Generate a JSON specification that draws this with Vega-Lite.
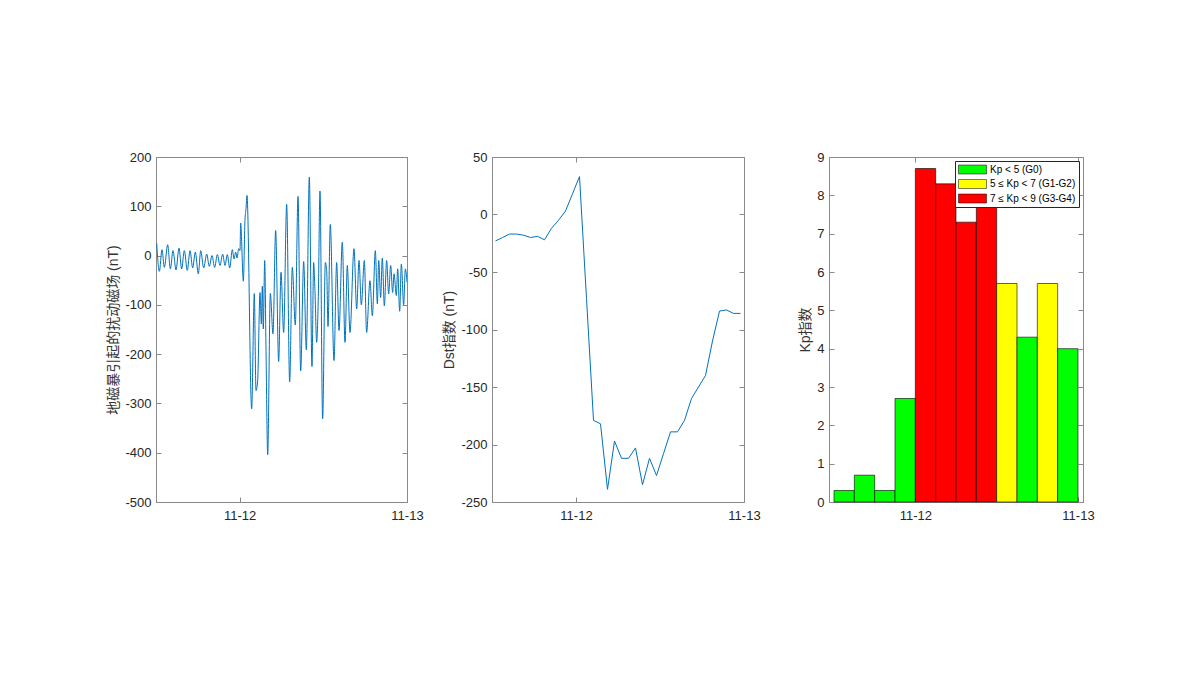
{
  "$schema": "https://vega.github.io/schema/vega-lite/v6.json",
  "background": "white",
  "padding": {"left": 106, "top": 150, "right": 5, "bottom": 5},
  "bounds": "flush",
  "spacing": 85,
  "resolve": {"legend": {"color": "independent"}},
  "datasets": {
    "geo": [
      {"hour": 12.10, "dB": 25}, {"hour": 12.48, "dB": -32}, {"hour": 12.86, "dB": 12}, {"hour": 13.20, "dB": -24},
      {"hour": 13.67, "dB": 22}, {"hour": 14.06, "dB": -27}, {"hour": 14.44, "dB": 10}, {"hour": 14.87, "dB": -29},
      {"hour": 15.30, "dB": 15}, {"hour": 15.68, "dB": -27}, {"hour": 16.06, "dB": 10}, {"hour": 16.49, "dB": -30},
      {"hour": 16.88, "dB": 10}, {"hour": 17.26, "dB": -25}, {"hour": 17.64, "dB": 7}, {"hour": 18.07, "dB": -37},
      {"hour": 18.41, "dB": 10}, {"hour": 18.84, "dB": -25}, {"hour": 19.27, "dB": 3}, {"hour": 19.65, "dB": -22},
      {"hour": 20.03, "dB": 0}, {"hour": 20.41, "dB": -24}, {"hour": 20.80, "dB": 2}, {"hour": 21.18, "dB": -20},
      {"hour": 21.56, "dB": 3}, {"hour": 21.90, "dB": -20}, {"hour": 22.23, "dB": 2}, {"hour": 22.57, "dB": -25},
      {"hour": 22.95, "dB": 12}, {"hour": 23.19, "dB": -7}, {"hour": 23.43, "dB": 7}, {"hour": 23.62, "dB": -5},
      {"hour": 23.86, "dB": 14}, {"hour": 24.05, "dB": 10}, {"hour": 24.14, "dB": 66}, {"hour": 24.53, "dB": -52},
      {"hour": 24.76, "dB": 71}, {"hour": 24.91, "dB": 95}, {"hour": 25.05, "dB": 122}, {"hour": 25.72, "dB": -311},
      {"hour": 26.10, "dB": -77}, {"hour": 26.34, "dB": -274}, {"hour": 26.58, "dB": -254}, {"hour": 26.92, "dB": -75},
      {"hour": 27.11, "dB": -139}, {"hour": 27.25, "dB": -62}, {"hour": 27.39, "dB": -149}, {"hour": 27.59, "dB": -10},
      {"hour": 27.78, "dB": -193}, {"hour": 28.02, "dB": -404}, {"hour": 28.40, "dB": -77}, {"hour": 28.78, "dB": -159},
      {"hour": 29.16, "dB": 51}, {"hour": 29.59, "dB": -215}, {"hour": 29.93, "dB": -34}, {"hour": 30.31, "dB": -156},
      {"hour": 30.74, "dB": 104}, {"hour": 31.17, "dB": -256}, {"hour": 31.55, "dB": -24}, {"hour": 31.98, "dB": -141},
      {"hour": 32.37, "dB": 120}, {"hour": 32.75, "dB": -234}, {"hour": 33.18, "dB": -12}, {"hour": 33.56, "dB": -191},
      {"hour": 33.99, "dB": 159}, {"hour": 34.37, "dB": -225}, {"hour": 34.61, "dB": -14}, {"hour": 34.80, "dB": -71},
      {"hour": 35.04, "dB": -176}, {"hour": 35.28, "dB": -83}, {"hour": 35.52, "dB": 131}, {"hour": 35.90, "dB": -331},
      {"hour": 36.29, "dB": -14}, {"hour": 36.48, "dB": -30}, {"hour": 36.67, "dB": -144}, {"hour": 37.00, "dB": 63},
      {"hour": 37.53, "dB": -213}, {"hour": 37.91, "dB": -14}, {"hour": 38.25, "dB": -152}, {"hour": 38.72, "dB": 27},
      {"hour": 39.11, "dB": -176}, {"hour": 39.44, "dB": -20}, {"hour": 39.82, "dB": -156}, {"hour": 40.40, "dB": 14},
      {"hour": 40.78, "dB": -108}, {"hour": 41.12, "dB": -10}, {"hour": 41.45, "dB": -100}, {"hour": 41.88, "dB": -10},
      {"hour": 42.21, "dB": -156}, {"hour": 42.69, "dB": -51}, {"hour": 43.03, "dB": -122}, {"hour": 43.46, "dB": 10},
      {"hour": 43.75, "dB": -98}, {"hour": 43.94, "dB": -10}, {"hour": 44.22, "dB": -85}, {"hour": 44.46, "dB": -5},
      {"hour": 44.75, "dB": -102}, {"hour": 45.08, "dB": -10}, {"hour": 45.37, "dB": -78}, {"hour": 45.66, "dB": -20},
      {"hour": 45.94, "dB": -75}, {"hour": 46.14, "dB": -37}, {"hour": 46.47, "dB": -81}, {"hour": 46.66, "dB": -27},
      {"hour": 46.95, "dB": -113}, {"hour": 47.19, "dB": -17}, {"hour": 47.52, "dB": -100}, {"hour": 47.76, "dB": -27},
      {"hour": 48.0, "dB": -54}
    ],
    "dst": [
      {"hour": 12.5, "dst": -23}, {"hour": 13.5, "dst": -20}, {"hour": 14.5, "dst": -17}, {"hour": 15.5, "dst": -17},
      {"hour": 16.5, "dst": -18}, {"hour": 17.5, "dst": -20}, {"hour": 18.5, "dst": -19}, {"hour": 19.5, "dst": -22},
      {"hour": 20.5, "dst": -12}, {"hour": 21.5, "dst": -5}, {"hour": 22.5, "dst": 3}, {"hour": 23.5, "dst": 18},
      {"hour": 24.5, "dst": 33}, {"hour": 25.5, "dst": -73}, {"hour": 26.5, "dst": -179}, {"hour": 27.5, "dst": -182},
      {"hour": 28.5, "dst": -239}, {"hour": 29.5, "dst": -197}, {"hour": 30.5, "dst": -212}, {"hour": 31.5, "dst": -212},
      {"hour": 32.5, "dst": -203}, {"hour": 33.5, "dst": -235}, {"hour": 34.5, "dst": -212}, {"hour": 35.5, "dst": -227},
      {"hour": 36.5, "dst": -208}, {"hour": 37.5, "dst": -189}, {"hour": 38.5, "dst": -189}, {"hour": 39.5, "dst": -179},
      {"hour": 40.5, "dst": -160}, {"hour": 41.5, "dst": -150}, {"hour": 42.5, "dst": -140}, {"hour": 43.5, "dst": -110},
      {"hour": 44.5, "dst": -84}, {"hour": 45.5, "dst": -83}, {"hour": 46.5, "dst": -86}, {"hour": 47.5, "dst": -86}
    ],
    "kp": [
      {"start": 12, "end": 15, "kp": 0.3, "level": "Kp < 5 (G0)"},
      {"start": 15, "end": 18, "kp": 0.7, "level": "Kp < 5 (G0)"},
      {"start": 18, "end": 21, "kp": 0.3, "level": "Kp < 5 (G0)"},
      {"start": 21, "end": 24, "kp": 2.7, "level": "Kp < 5 (G0)"},
      {"start": 24, "end": 27, "kp": 8.7, "level": "7 ≤ Kp < 9 (G3-G4)"},
      {"start": 27, "end": 30, "kp": 8.3, "level": "7 ≤ Kp < 9 (G3-G4)"},
      {"start": 30, "end": 33, "kp": 7.3, "level": "7 ≤ Kp < 9 (G3-G4)"},
      {"start": 33, "end": 36, "kp": 7.7, "level": "7 ≤ Kp < 9 (G3-G4)"},
      {"start": 36, "end": 39, "kp": 5.7, "level": "5 ≤ Kp < 7 (G1-G2)"},
      {"start": 39, "end": 42, "kp": 4.3, "level": "Kp < 5 (G0)"},
      {"start": 42, "end": 45, "kp": 5.7, "level": "5 ≤ Kp < 7 (G1-G2)"},
      {"start": 45, "end": 48, "kp": 4.0, "level": "Kp < 5 (G0)"}
    ]
  },
  "config": {
    "font": "Liberation Sans, Noto Sans CJK SC",
    "view": {"stroke": "#8a8a8a", "strokeWidth": 1},
    "axis": {
      "grid": false,
      "domainColor": "#8a8a8a",
      "tickColor": "#8a8a8a",
      "tickSize": -5,
      "labelFontSize": 13,
      "labelColor": "#262626",
      "labelFont": "Liberation Sans",
      "titleFont": "Liberation Sans, Noto Sans CJK SC",
      "titleFontSize": 14,
      "titleFontWeight": "normal",
      "titleColor": "#333333",
      "titlePadding": 4,
      "labelFlush": false,
      "labelOverlap": false
    },
    "axisX": {"labelPadding": 12},
    "axisY": {"labelPadding": 10, "labelExpr": "'' + datum.value"}
  },
  "hconcat": [
    {
      "width": 251,
      "height": 345,
      "data": {"name": "geo"},
      "layer": [
        {
          "mark": {"type": "line", "color": "#0072bd", "strokeWidth": 1, "interpolate": "monotone", "clip": true},
          "encoding": {
            "x": {"field": "hour", "type": "quantitative", "scale": {"domain": [12, 48], "nice": false, "zero": false},
                  "axis": {"values": [24, 48], "labelExpr": "datum.value == 24 ? '11-12' : '11-13'", "title": null}},
            "y": {"field": "dB", "type": "quantitative", "scale": {"domain": [-500, 200], "nice": false},
                  "axis": {"values": [-500, -400, -300, -200, -100, 0, 100, 200], "title": "地磁暴引起的扰动磁场 (nT)"}}
          }
        },
        {
          "mark": {"type": "line", "opacity": 0},
          "encoding": {
            "x": {"field": "hour", "type": "quantitative", "scale": {"domain": [12, 48], "nice": false, "zero": false},
                  "axis": {"orient": "top", "values": [24, 48], "labels": false, "domain": false, "title": null}},
            "y": {"field": "dB", "type": "quantitative", "scale": {"domain": [-500, 200], "nice": false},
                  "axis": {"orient": "right", "values": [-500, -400, -300, -200, -100, 0, 100, 200], "labels": false, "domain": false, "title": null}}
          }
        }
      ],
      "resolve": {"scale": {"x": "independent", "y": "independent"}, "axis": {"x": "independent", "y": "independent"}}
    },
    {
      "width": 252,
      "height": 345,
      "data": {"name": "dst"},
      "layer": [
        {
          "mark": {"type": "line", "color": "#0072bd", "strokeWidth": 1},
          "encoding": {
            "x": {"field": "hour", "type": "quantitative", "scale": {"domain": [12, 48], "nice": false, "zero": false},
                  "axis": {"values": [24, 48], "labelExpr": "datum.value == 24 ? '11-12' : '11-13'", "title": null}},
            "y": {"field": "dst", "type": "quantitative", "scale": {"domain": [-250, 50], "nice": false},
                  "axis": {"values": [-250, -200, -150, -100, -50, 0, 50], "title": "Dst指数 (nT)"}}
          }
        },
        {
          "mark": {"type": "line", "opacity": 0},
          "encoding": {
            "x": {"field": "hour", "type": "quantitative", "scale": {"domain": [12, 48], "nice": false, "zero": false},
                  "axis": {"orient": "top", "values": [24, 48], "labels": false, "domain": false, "title": null}},
            "y": {"field": "dst", "type": "quantitative", "scale": {"domain": [-250, 50], "nice": false},
                  "axis": {"orient": "right", "values": [-250, -200, -150, -100, -50, 0, 50], "labels": false, "domain": false, "title": null}}
          }
        }
      ],
      "resolve": {"scale": {"x": "independent", "y": "independent"}, "axis": {"x": "independent", "y": "independent"}}
    },
    {
      "width": 254,
      "height": 345,
      "data": {"name": "kp"},
      "layer": [
        {
          "mark": {"type": "bar", "stroke": "#000000", "strokeWidth": 0.6, "orient": "vertical"},
          "encoding": {
            "x": {"field": "start", "type": "quantitative", "scale": {"domain": [12, 48], "nice": false, "zero": false},
                  "axis": {"values": [24, 48], "labelExpr": "datum.value == 24 ? '11-12' : '11-13'", "title": null}},
            "x2": {"field": "end"},
            "y": {"field": "kp", "type": "quantitative", "scale": {"domain": [0, 9], "nice": false},
                  "axis": {"values": [0, 1, 2, 3, 4, 5, 6, 7, 8, 9], "title": "Kp指数"}},
            "y2": {"datum": 0},
            "color": {
              "field": "level", "type": "nominal",
              "scale": {"domain": ["Kp < 5 (G0)", "5 ≤ Kp < 7 (G1-G2)", "7 ≤ Kp < 9 (G3-G4)"], "range": ["#00ff00", "#ffff00", "#ff0000"]},
              "legend": {
                "title": null,
                "orient": "none",
                "legendX": 126,
                "legendY": 4,
                "padding": 3,
                "fillColor": "white",
                "strokeColor": "#262626",
                "symbolType": "M-2.8,-0.9H2.8V0.9H-2.8Z",
                "symbolSize": 100,
                "symbolOffset": 9,
                "symbolStrokeColor": "#000000",
                "symbolStrokeWidth": 0.5,
                "symbolOpacity": 1,
                "labelOffset": 12,
                "labelFontSize": 10,
                "labelFont": "Liberation Sans",
                "labelColor": "#000000",
                "rowPadding": 3.5,
                "labelLimit": 200
              }
            }
          }
        },
        {
          "mark": {"type": "bar", "opacity": 0, "orient": "vertical"},
          "encoding": {
            "x": {"field": "start", "type": "quantitative", "scale": {"domain": [12, 48], "nice": false, "zero": false},
                  "axis": {"orient": "top", "values": [24, 48], "labels": false, "domain": false, "title": null}},
            "x2": {"field": "end"},
            "y": {"field": "kp", "type": "quantitative", "scale": {"domain": [0, 9], "nice": false},
                  "axis": {"orient": "right", "values": [0, 1, 2, 3, 4, 5, 6, 7, 8, 9], "labels": false, "domain": false, "title": null}},
            "y2": {"datum": 0}
          }
        }
      ],
      "resolve": {"scale": {"x": "independent", "y": "independent"}, "axis": {"x": "independent", "y": "independent"}}
    }
  ]
}
